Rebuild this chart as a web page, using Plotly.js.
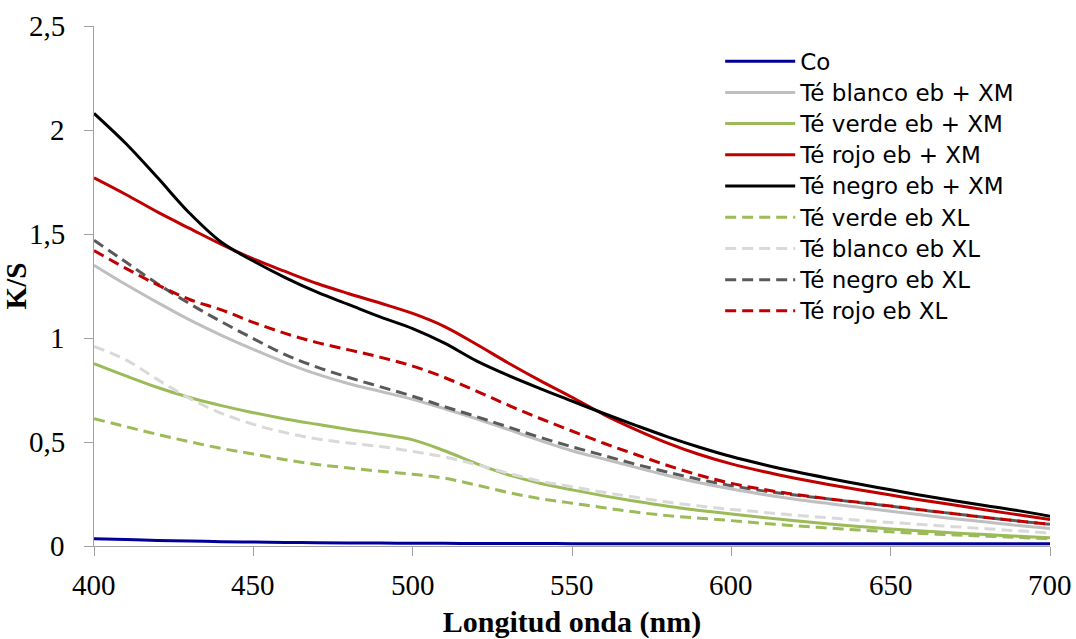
<!DOCTYPE html>
<html>
<head>
<meta charset="utf-8">
<script src="https://cdn.plot.ly/plotly-3.0.1.min.js"></script>
<style>html,body{margin:0;padding:0;background:#fff;}#chart{width:1076px;height:639px;}</style>
</head>
<body>
<div id="chart"></div>
<script>
// Wavelength (nm)
const wavelength = [400,410,420,430,440,450,460,470,480,490,500,510,520,530,540,550,560,570,580,590,600,610,620,630,640,650,660,670,680,690,700];

// K/S values per series
const co =       [0.035,0.031,0.027,0.024,0.021,0.019,0.017,0.016,0.015,0.014,0.013,0.013,0.012,0.012,0.012,0.011,0.011,0.011,0.011,0.011,0.011,0.011,0.011,0.011,0.011,0.011,0.011,0.011,0.011,0.011,0.011];
const blancoXM = [1.35,1.257,1.17,1.087,1.013,0.945,0.882,0.826,0.78,0.743,0.705,0.66,0.612,0.56,0.507,0.458,0.418,0.378,0.339,0.304,0.274,0.248,0.225,0.205,0.186,0.167,0.149,0.131,0.115,0.099,0.084];
const verdeXM =  [0.877,0.818,0.762,0.714,0.675,0.641,0.611,0.585,0.56,0.537,0.51,0.458,0.396,0.342,0.302,0.27,0.241,0.215,0.191,0.171,0.154,0.137,0.121,0.107,0.094,0.082,0.072,0.063,0.055,0.047,0.04];
const rojoXM =   [1.77,1.69,1.605,1.527,1.45,1.38,1.32,1.262,1.213,1.167,1.118,1.055,0.97,0.88,0.795,0.715,0.632,0.56,0.495,0.44,0.395,0.358,0.326,0.297,0.27,0.245,0.22,0.197,0.173,0.15,0.127];
const negroXM =  [2.08,1.935,1.77,1.6,1.46,1.37,1.29,1.22,1.16,1.10,1.045,0.975,0.89,0.82,0.757,0.697,0.637,0.58,0.525,0.475,0.43,0.392,0.358,0.327,0.298,0.27,0.243,0.218,0.194,0.17,0.143];
const verdeXL =  [0.612,0.574,0.536,0.501,0.469,0.442,0.415,0.392,0.375,0.359,0.345,0.326,0.293,0.257,0.228,0.206,0.184,0.163,0.146,0.134,0.122,0.109,0.097,0.087,0.077,0.068,0.06,0.053,0.047,0.041,0.035];
const blancoXL = [0.96,0.895,0.80,0.71,0.638,0.585,0.545,0.515,0.495,0.478,0.455,0.428,0.392,0.35,0.312,0.285,0.258,0.234,0.211,0.192,0.176,0.162,0.148,0.136,0.124,0.113,0.103,0.093,0.083,0.073,0.063];
const negroXL =  [1.47,1.365,1.26,1.165,1.078,0.997,0.92,0.86,0.81,0.765,0.72,0.67,0.622,0.572,0.522,0.477,0.435,0.393,0.355,0.32,0.29,0.265,0.245,0.227,0.209,0.191,0.172,0.155,0.137,0.12,0.104];
const rojoXL =   [1.42,1.335,1.255,1.185,1.135,1.075,1.022,0.978,0.943,0.907,0.865,0.81,0.745,0.677,0.613,0.553,0.494,0.44,0.387,0.34,0.301,0.272,0.248,0.228,0.21,0.192,0.173,0.155,0.137,0.12,0.104];

const names = ["Co","Té blanco eb + XM","Té verde eb + XM","Té rojo eb + XM","Té negro eb + XM","Té verde eb XL","Té blanco eb XL","Té negro eb XL","Té rojo eb XL"];

// Tick labels
const xTickVals = [400,450,500,550,600,650,700];
const xTickText = ["400","450","500","550","600","650","700"];
const yTickVals = [0,0.5,1,1.5,2,2.5];
const yTickText = ["0","0,5","1","1,5","2","2,5"];

const seriesData = [co,blancoXM,verdeXM,rojoXM,negroXM,verdeXL,blancoXL,negroXL,rojoXL];
const colors = ["#000099","#bfbfbf","#9bbb59","#c00000","#000000","#9bbb59","#d9d9d9","#595959","#c00000"];
const dashes = ["solid","solid","solid","solid","solid","11px,6px","11px,6px","11px,6px","11px,6px"];

const traces = names.map((n,i)=>({
  x: wavelength, y: seriesData[i],
  name: '<span style="font-family:DejaVu Sans;font-size:23px">' + n + '</span>',
  type: 'scatter', mode: 'lines',
  line: {color: colors[i], width: 3, dash: dashes[i], shape: 'spline', smoothing: 1}
}));

const serif = 'Liberation Serif';
const tickFont = {family: serif, size: 29, color: '#000'};

// tick labels drawn at the axis values through the axis scales
const annotations = [];
xTickVals.forEach((v,i)=>annotations.push({
  x: v, xref: 'x', y: 0, yref: 'paper', yanchor: 'top', xanchor: 'center',
  yshift: -22, text: xTickText[i], showarrow: false, font: tickFont, borderpad: 0
}));
yTickVals.forEach((v,i)=>annotations.push({
  x: 0, xref: 'paper', y: v, yref: 'y', yanchor: 'middle', xanchor: 'right',
  xshift: -28, text: yTickText[i], showarrow: false, font: tickFont, borderpad: 0
}));

const layout = {
  width: 1076, height: 639,
  margin: {l: 94, r: 26, t: 26, b: 93},
  paper_bgcolor: '#ffffff', plot_bgcolor: '#ffffff',
  font: {family: serif, size: 28, color: '#000'},
  separators: ',.',
  showlegend: true,
  legend: {
    x: 0.655, xanchor: 'left', y: 0.972, yanchor: 'top',
    font: {family: serif, size: 21.7, color: '#000'},
    itemwidth: 70, bgcolor: 'rgba(0,0,0,0)', borderwidth: 0,
    tracegroupgap: 0
  },
  annotations: annotations,
  xaxis: {
    range: [400,700], tickmode: 'array', tickvals: xTickVals, showticklabels: false,
    showgrid: false, zeroline: false, showline: true, linecolor: '#a0a0a0', linewidth: 1,
    ticks: 'outside', ticklen: 9, tickcolor: '#a0a0a0', tickwidth: 1,
    title: {text: '<b>Longitud onda (nm)</b>', font: {family: serif, size: 30, color: '#000'}, standoff: 57},
    automargin: false
  },
  yaxis: {
    range: [0,2.5], tickmode: 'array', tickvals: yTickVals, showticklabels: false,
    showgrid: false, zeroline: false, showline: true, linecolor: '#a0a0a0', linewidth: 1,
    ticks: 'outside', ticklen: 9, tickcolor: '#a0a0a0', tickwidth: 1,
    title: {text: '<b>K/S</b>', font: {family: serif, size: 29, color: '#000'}, standoff: 48},
    automargin: false
  }
};

Plotly.newPlot('chart', traces, layout, {displayModeBar: false, staticPlot: true});
</script>
</body>
</html>
